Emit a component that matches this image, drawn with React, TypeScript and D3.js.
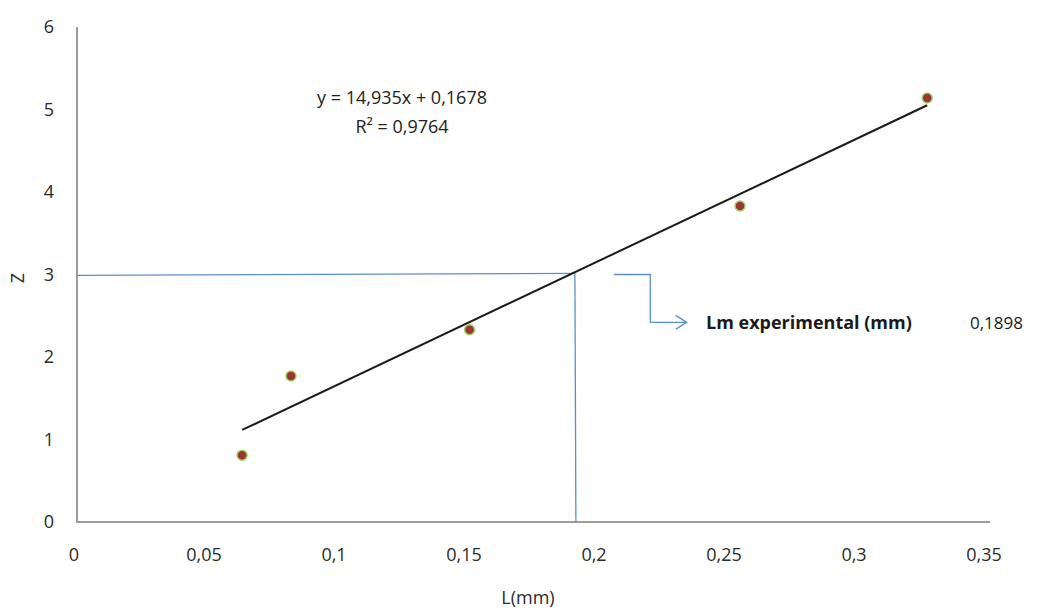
import React, { useEffect, useRef } from 'react';
import * as d3 from 'd3';

// measured points (L in mm, Z)
const lValues = [0.0635, 0.0823, 0.151, 0.255, 0.327];
const zValues = [0.81, 1.77, 2.33, 3.83, 5.14];

// trend line y = 14,935x + 0,1678
const slope = 14.935;
const intercept = 0.1678;

const xTicks = [0, 0.05, 0.1, 0.15, 0.2, 0.25, 0.3, 0.35];
const yTicks = [0, 1, 2, 3, 4, 5, 6];

// guide lines read at Z = 3
const guidePoint = [0.1915, 2.99];
// elbow connector (data space) pointing to the result label
const connectorPts = [
  [0.2065, 3.0],
  [0.2205, 3.0],
  [0.2205, 2.42],
  [0.2345, 2.42],
];

const App = () => {
  const svgRef = useRef<SVGSVGElement>(null);

  useEffect(() => {
    const svg = d3.select(svgRef.current);
    svg.selectAll('*').remove();

    const W = 1038;
    const H = 611;
    const font = "'Open Sans', 'DejaVu Sans', sans-serif";
    const fs = 18;

    const x = d3.scaleLinear().domain([0, 0.35]).range([77, 987]);
    const y = d3.scaleLinear().domain([0, 6]).range([522, 27]);

    svg.attr('width', W).attr('height', H);

    svg.append('rect').attr('width', W).attr('height', H).attr('fill', '#fff');

    // axes lines
    svg.append('line')
      .attr('x1', x(0)).attr('x2', x(0))
      .attr('y1', y(6)).attr('y2', y(0))
      .attr('stroke', '#9d9d9d').attr('stroke-width', 2);
    svg.append('line')
      .attr('x1', x(0) - 1).attr('x2', 990)
      .attr('y1', y(0)).attr('y2', y(0))
      .attr('stroke', '#9d9d9d').attr('stroke-width', 2);

    // tick labels
    svg.append('g')
      .selectAll('text')
      .data(yTicks)
      .enter().append('text')
      .attr('x', 54)
      .attr('y', d => y(d) + 6)
      .attr('text-anchor', 'end')
      .attr('font-family', font)
      .attr('font-size', fs)
      .attr('fill', '#2b2b2b')
      .text(d => String(d));

    svg.append('g')
      .selectAll('text')
      .data(xTicks)
      .enter().append('text')
      .attr('x', d => x(d) - 3)
      .attr('y', 561)
      .attr('text-anchor', 'middle')
      .attr('font-family', font)
      .attr('font-size', fs)
      .attr('fill', '#2b2b2b')
      .text(d => String(d).replace('.', ','));

    // axis titles
    svg.append('text')
      .attr('transform', 'translate(24,278) rotate(-90)')
      .attr('text-anchor', 'middle')
      .attr('font-family', font)
      .attr('font-size', fs)
      .attr('fill', '#2b2b2b')
      .text('Z');

    svg.append('text')
      .attr('x', 528)
      .attr('y', 604)
      .attr('text-anchor', 'middle')
      .attr('font-family', font)
      .attr('font-size', fs)
      .attr('fill', '#2b2b2b')
      .text('L(mm)');

    // guide lines
    const blue = '#5b8fd0';
    svg.append('line')
      .attr('x1', x(0)).attr('x2', x(guidePoint[0]))
      .attr('y1', y(guidePoint[1])).attr('y2', y(guidePoint[1]) - 2)
      .attr('stroke', blue).attr('stroke-width', 1.3);
    svg.append('line')
      .attr('x1', x(guidePoint[0])).attr('x2', x(guidePoint[0]) + 1)
      .attr('y1', y(guidePoint[1]) - 2).attr('y2', y(0))
      .attr('stroke', blue).attr('stroke-width', 1.3);

    // connector with open arrowhead
    const conn = d3.line<number[]>().x(d => x(d[0])).y(d => y(d[1]));
    svg.append('path')
      .attr('d', conn(connectorPts))
      .attr('fill', 'none')
      .attr('stroke', blue)
      .attr('stroke-width', 1.3);
    const tip = connectorPts[connectorPts.length - 1];
    const tx = x(tip[0]);
    const ty = y(tip[1]);
    svg.append('path')
      .attr('d', `M${tx - 11},${ty - 7} L${tx},${ty} L${tx - 11},${ty + 7}`)
      .attr('fill', 'none')
      .attr('stroke', blue)
      .attr('stroke-width', 1.3);

    // trend line across the data range
    const [xmin, xmax] = d3.extent(lValues) as [number, number];
    svg.append('line')
      .attr('x1', x(xmin)).attr('y1', y(slope * xmin + intercept))
      .attr('x2', x(xmax)).attr('y2', y(slope * xmax + intercept))
      .attr('stroke', '#1a1a1a')
      .attr('stroke-width', 2);

    // points
    svg.append('g')
      .selectAll('circle')
      .data(lValues)
      .enter().append('circle')
      .attr('cx', d => x(d))
      .attr('cy', (d, i) => y(zValues[i]))
      .attr('r', 5)
      .attr('fill', '#9b3530')
      .attr('stroke', '#9bd26a')
      .attr('stroke-width', 1.5);

    // equation
    svg.append('text')
      .attr('x', 402).attr('y', 104)
      .attr('text-anchor', 'middle')
      .attr('font-family', font)
      .attr('font-size', fs)
      .attr('fill', '#222')
      .text('y = 14,935x + 0,1678');
    svg.append('text')
      .attr('x', 402).attr('y', 133)
      .attr('text-anchor', 'middle')
      .attr('font-family', font)
      .attr('font-size', fs)
      .attr('fill', '#222')
      .text('R² = 0,9764');

    // result label
    svg.append('text')
      .attr('x', 706).attr('y', 329)
      .attr('font-family', font)
      .attr('font-size', 18)
      .attr('font-weight', 'bold')
      .attr('fill', '#1a1a1a')
      .text('Lm experimental (mm)');
    svg.append('text')
      .attr('x', 970).attr('y', 329)
      .attr('font-family', font)
      .attr('font-size', 17)
      .attr('fill', '#1a1a1a')
      .text('0,1898');
  }, []);

  return (
    <div style={{ position: 'absolute', left: 0, top: 0 }}>
      <svg ref={svgRef} style={{ display: 'block' }}></svg>
    </div>
  );
};

export default App;
